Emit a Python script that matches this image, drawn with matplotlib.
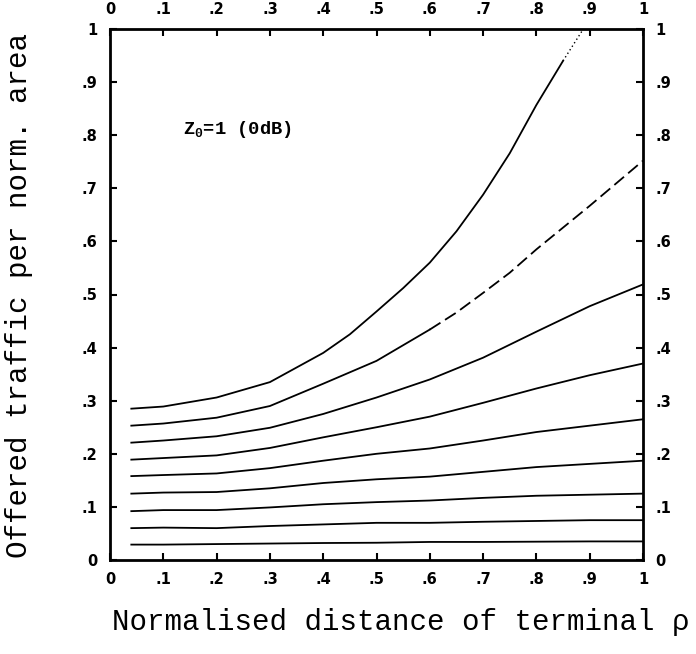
import matplotlib
matplotlib.use("Agg")
import matplotlib.pyplot as plt

# Normalised distance of terminal (rho)
rho = [0.04, 0.1, 0.2, 0.3, 0.4, 0.5, 0.6, 0.7, 0.8, 0.9, 1.0]
rho_top = [0.04, 0.1, 0.2, 0.3, 0.4, 0.45, 0.5, 0.55, 0.6, 0.65, 0.7,
           0.75, 0.8, 0.85, 0.888]
rho_2 = [0.04, 0.1, 0.2, 0.3, 0.4, 0.5, 0.6, 0.65, 0.7, 0.75, 0.8,
         0.85, 0.9, 1.0]

# Offered traffic per normalised area, one curve per load level
traffic_1 = [0.285, 0.289, 0.306, 0.335, 0.390, 0.425, 0.468, 0.512, 0.560,
             0.619, 0.688, 0.766, 0.857, 0.940, 1.0]
traffic_2 = [0.253, 0.257, 0.268, 0.290, 0.332, 0.375, 0.434, 0.466, 0.503,
             0.541, 0.585, 0.626, 0.667, 0.752]
traffic_3 = [0.221, 0.225, 0.233, 0.249, 0.275, 0.306, 0.340, 0.381, 0.430, 0.478, 0.519]
traffic_4 = [0.189, 0.192, 0.197, 0.211, 0.231, 0.250, 0.270, 0.296, 0.323, 0.348, 0.370]
traffic_5 = [0.158, 0.160, 0.163, 0.173, 0.187, 0.200, 0.210, 0.225, 0.241, 0.253, 0.265]
traffic_6 = [0.125, 0.127, 0.128, 0.135, 0.145, 0.152, 0.157, 0.166, 0.175, 0.181, 0.187]
traffic_7 = [0.092, 0.094, 0.094, 0.099, 0.105, 0.109, 0.112, 0.117, 0.121, 0.123, 0.125]
traffic_8 = [0.060, 0.061, 0.060, 0.064, 0.067, 0.070, 0.070, 0.072, 0.0735, 0.075, 0.075]
traffic_9 = [0.029, 0.029, 0.030, 0.031, 0.032, 0.0325, 0.034, 0.034, 0.0345, 0.035, 0.035]

tick_vals = [0, 0.1, 0.2, 0.3, 0.4, 0.5, 0.6, 0.7, 0.8, 0.9, 1.0]
tick_labels = ["0", ".1", ".2", ".3", ".4", ".5", ".6", ".7", ".8", ".9", "1"]

fig = plt.figure(figsize=(6.96, 6.54), dpi=100)
ax = fig.add_axes([110 / 696, (654 - 560) / 654, 533 / 696, 531 / 654])

LW = 1.3
# top curve: solid, fading to dotted where it leaves the frame
ax.plot(rho_top[:-1], traffic_1[:-1], color="black", lw=LW)
ax.plot(rho_top[-2:], traffic_1[-2:], color="black", lw=1.0, ls=(0, (1, 2)))
# second curve: solid, then broken dashes in its upper part
ax.plot(rho_2[:7], traffic_2[:7], color="black", lw=LW)
ax.plot(rho_2[6:], traffic_2[6:], color="black", lw=LW, ls=(0, (7, 3)))
for series in [traffic_3, traffic_4, traffic_5,
               traffic_6, traffic_7, traffic_8, traffic_9]:
    ax.plot(rho, series, color="black", lw=LW)

ax.set_xlim(0, 1)
ax.set_ylim(0, 1)
for s in ax.spines.values():
    s.set_linewidth(2.0)

ax.set_xticks(tick_vals)
ax.set_xticklabels(tick_labels)
ax.set_yticks(tick_vals)
ax.set_yticklabels(tick_labels)
ax.tick_params(direction="in", length=5, width=1.5, top=True, right=True,
               labeltop=True, labelright=True, labelsize=10.5, pad=9)
for lab in ax.get_xticklabels() + ax.get_yticklabels():
    lab.set_fontweight("bold")

ax.text(0.137, 0.81, r"Z$_\mathregular{0}$=1 (0dB)", transform=ax.transAxes,
        fontsize=13.5, family="Liberation Mono", fontweight="bold",
        va="center", ha="left")

fig.text(401 / 696, (654 - 622) / 654, "Normalised distance of terminal ρ",
         family="Liberation Mono", fontsize=21, ha="center", va="center")
fig.text(19 / 696, (654 - 296) / 654, "Offered traffic per norm. area",
         family="Liberation Mono", fontsize=21, ha="center", va="center",
         rotation=90)

fig.savefig("out.png", dpi=100, facecolor="white")
